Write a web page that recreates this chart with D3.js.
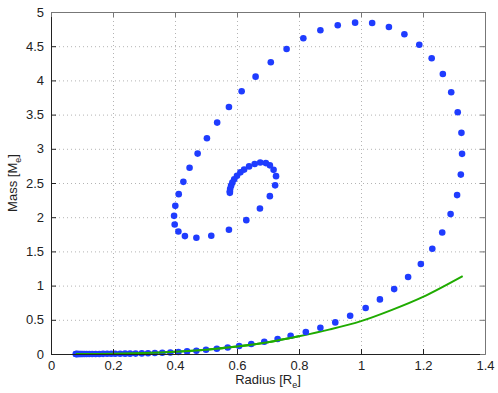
<!DOCTYPE html>
<html>
<head>
<meta charset="utf-8">
<script src="https://cdn.jsdelivr.net/npm/d3@7"></script>
<style>
  body { margin: 0; background: #fff; }
  text { font-family: "Liberation Sans", Arial, sans-serif; fill: #222; }
</style>
</head>
<body>
<div id="chart"></div>
<script>
const width = 498;
const height = 393;
const margin = { top: 12, right: 13, bottom: 39, left: 51 };

// DATA

// blue dots, in order along the curve
const radius = [
  0.080, 0.081, 0.082, 0.084, 0.086, 0.089, 0.093, 0.097, 0.102, 0.108, 0.115,
  0.1235, 0.133, 0.144, 0.156, 0.168, 0.181, 0.194, 0.207, 0.223, 0.239, 0.255,
  0.273, 0.293, 0.313, 0.335, 0.359, 0.385, 0.411, 0.439, 0.469, 0.500, 0.535,
  0.570, 0.607, 0.646, 0.688, 0.731, 0.773, 0.822, 0.869, 0.917, 0.965, 1.015,
  1.061, 1.107, 1.152, 1.193, 1.230, 1.262, 1.289, 1.310, 1.322, 1.326, 1.324,
  1.312, 1.291, 1.264, 1.228, 1.188, 1.140, 1.090, 1.036, 0.981, 0.925, 0.869,
  0.814, 0.760, 0.709, 0.660, 0.615, 0.574, 0.536, 0.503, 0.473, 0.447, 0.427,
  0.412, 0.401, 0.397, 0.399, 0.411, 0.432, 0.469, 0.517, 0.574, 0.630, 0.674,
  0.706, 0.723, 0.726, 0.718, 0.706, 0.693, 0.675, 0.657, 0.639, 0.623, 0.611,
  0.600, 0.591, 0.585, 0.581, 0.578, 0.577, 0.577
];
const mass = [
  0.000, 0.000, 0.000, 0.000, 0.000, 0.000, 0.000, 0.000, 0.000, 0.000, 0.000,
  0.000, 0.000, 0.001, 0.001, 0.002, 0.003, 0.003, 0.004, 0.004, 0.005, 0.005,
  0.006, 0.009, 0.010, 0.015, 0.019, 0.023, 0.029, 0.038, 0.048, 0.063, 0.077,
  0.096, 0.117, 0.146, 0.180, 0.219, 0.267, 0.321, 0.384, 0.462, 0.559, 0.672,
  0.798, 0.949, 1.125, 1.315, 1.538, 1.776, 2.045, 2.323, 2.623, 2.926, 3.233,
  3.535, 3.827, 4.094, 4.324, 4.522, 4.674, 4.781, 4.839, 4.844, 4.806, 4.733,
  4.616, 4.460, 4.265, 4.055, 3.842, 3.612, 3.383, 3.155, 2.930, 2.724, 2.517,
  2.337, 2.166, 2.020, 1.893, 1.791, 1.724, 1.699, 1.728, 1.816, 1.957, 2.127,
  2.308, 2.466, 2.600, 2.692, 2.758, 2.791, 2.800, 2.777, 2.743, 2.696, 2.656,
  2.607, 2.553, 2.505, 2.461, 2.415, 2.378, 2.356
];

// green curve
const lineRadius = [0.08, 0.2, 0.3, 0.4, 0.5, 0.6, 0.7, 0.8, 0.9, 1.0, 1.1, 1.2, 1.328];
const lineMass = [0, 0.004, 0.015, 0.034, 0.063, 0.108, 0.172, 0.26, 0.36, 0.48, 0.645, 0.835, 1.139];

const xTicks = [0, 0.2, 0.4, 0.6, 0.8, 1, 1.2, 1.4];
const yTicks = [0, 0.5, 1, 1.5, 2, 2.5, 3, 3.5, 4, 4.5, 5];

// SCALES

const innerW = width - margin.left - margin.right;
const innerH = height - margin.top - margin.bottom;

const x = d3.scaleLinear().domain([0, 1.4]).range([0, innerW]);
const y = d3.scaleLinear().domain([0, 5]).range([innerH, 0]);

const svg = d3
  .select("#chart")
  .append("svg")
  .attr("width", width)
  .attr("height", height)
  .style("background-color", "#fff");

svg.append("defs")
  .append("clipPath")
  .attr("id", "lowclip")
  .append("rect")
  .attr("x", 0)
  .attr("y", 0)
  .attr("width", x(0.8))
  .attr("height", innerH + 2);

const g = svg.append("g").attr("transform", `translate(${margin.left},${margin.top})`);

// GRID

const gridX = g
  .append("g")
  .attr("transform", `translate(0,${innerH})`)
  .call(d3.axisBottom(x).tickValues(xTicks.slice(1, -1)).tickSize(-innerH).tickFormat(""));
const gridY = g
  .append("g")
  .call(d3.axisLeft(y).tickValues(yTicks.slice(1, -1)).tickSize(-innerW).tickFormat(""));
[gridX, gridY].forEach((sel) => {
  sel.select(".domain").remove();
  sel.selectAll("line").attr("stroke", "#b4b4b4").attr("stroke-dasharray", "1,3");
});

// MARKS

const line = d3
  .line()
  .x((d) => x(d[0]))
  .y((d) => y(d[1]))
  .curve(d3.curveCatmullRom);

g.append("path")
  .datum(d3.zip(lineRadius, lineMass))
  .attr("fill", "none")
  .attr("stroke", "#1fab00")
  .attr("stroke-width", 2)
  .attr("d", line);

g.append("g")
  .selectAll("circle")
  .data(d3.zip(radius, mass))
  .join("circle")
  .attr("cx", (d) => x(d[0]))
  .attr("cy", (d) => y(d[1]))
  .attr("r", 3.3)
  .attr("fill", "#1f3cff");

// green line again on top of the flat run of dots
g.append("path")
  .datum(d3.zip(lineRadius, lineMass))
  .attr("fill", "none")
  .attr("stroke", "#1fab00")
  .attr("stroke-width", 2)
  .attr("d", line)
  .attr("clip-path", "url(#lowclip)");

// AXES

const fmt = d3.format("~g");

const axB = g.append("g").attr("transform", `translate(0,${innerH})`)
  .call(d3.axisBottom(x).tickValues(xTicks).tickSizeInner(-5).tickSizeOuter(0).tickPadding(7).tickFormat(fmt));
const axL = g.append("g")
  .call(d3.axisLeft(y).tickValues(yTicks).tickSizeInner(-5).tickSizeOuter(0).tickPadding(7).tickFormat(fmt));
const axT = g.append("g")
  .call(d3.axisTop(x).tickValues(xTicks).tickSizeInner(-5).tickSizeOuter(0).tickFormat(""));
const axR = g.append("g").attr("transform", `translate(${innerW},0)`)
  .call(d3.axisRight(y).tickValues(yTicks).tickSizeInner(-5).tickSizeOuter(0).tickFormat(""));

[axB, axL, axT, axR].forEach((sel) => {
  sel.select(".domain").attr("stroke", "#222");
  sel.selectAll("line").attr("stroke", "#222");
  sel.selectAll("text").style("font-size", "13px").attr("fill", "#222");
});
[axT, axR].forEach((sel) => {
  sel.select(".domain").attr("stroke", "#777");
  sel.selectAll("line").attr("stroke", "#777");
});

// LABELS

const xLabel = svg.append("text")
  .attr("x", margin.left + x(0.7))
  .attr("y", 384)
  .attr("text-anchor", "middle")
  .style("font-size", "13px");
xLabel.append("tspan").text("Radius [R");
xLabel.append("tspan").attr("dy", 4).style("font-size", "9px").text("e");
xLabel.append("tspan").attr("dy", -4).text("]");

const yLabel = svg.append("text")
  .attr("transform", `translate(17,${margin.top + y(2.5)}) rotate(-90)`)
  .attr("text-anchor", "middle")
  .style("font-size", "13px");
yLabel.append("tspan").text("Mass [M");
yLabel.append("tspan").attr("dy", 4).style("font-size", "9px").text("e");
yLabel.append("tspan").attr("dy", -4).text("]");
</script>
</body>
</html>
